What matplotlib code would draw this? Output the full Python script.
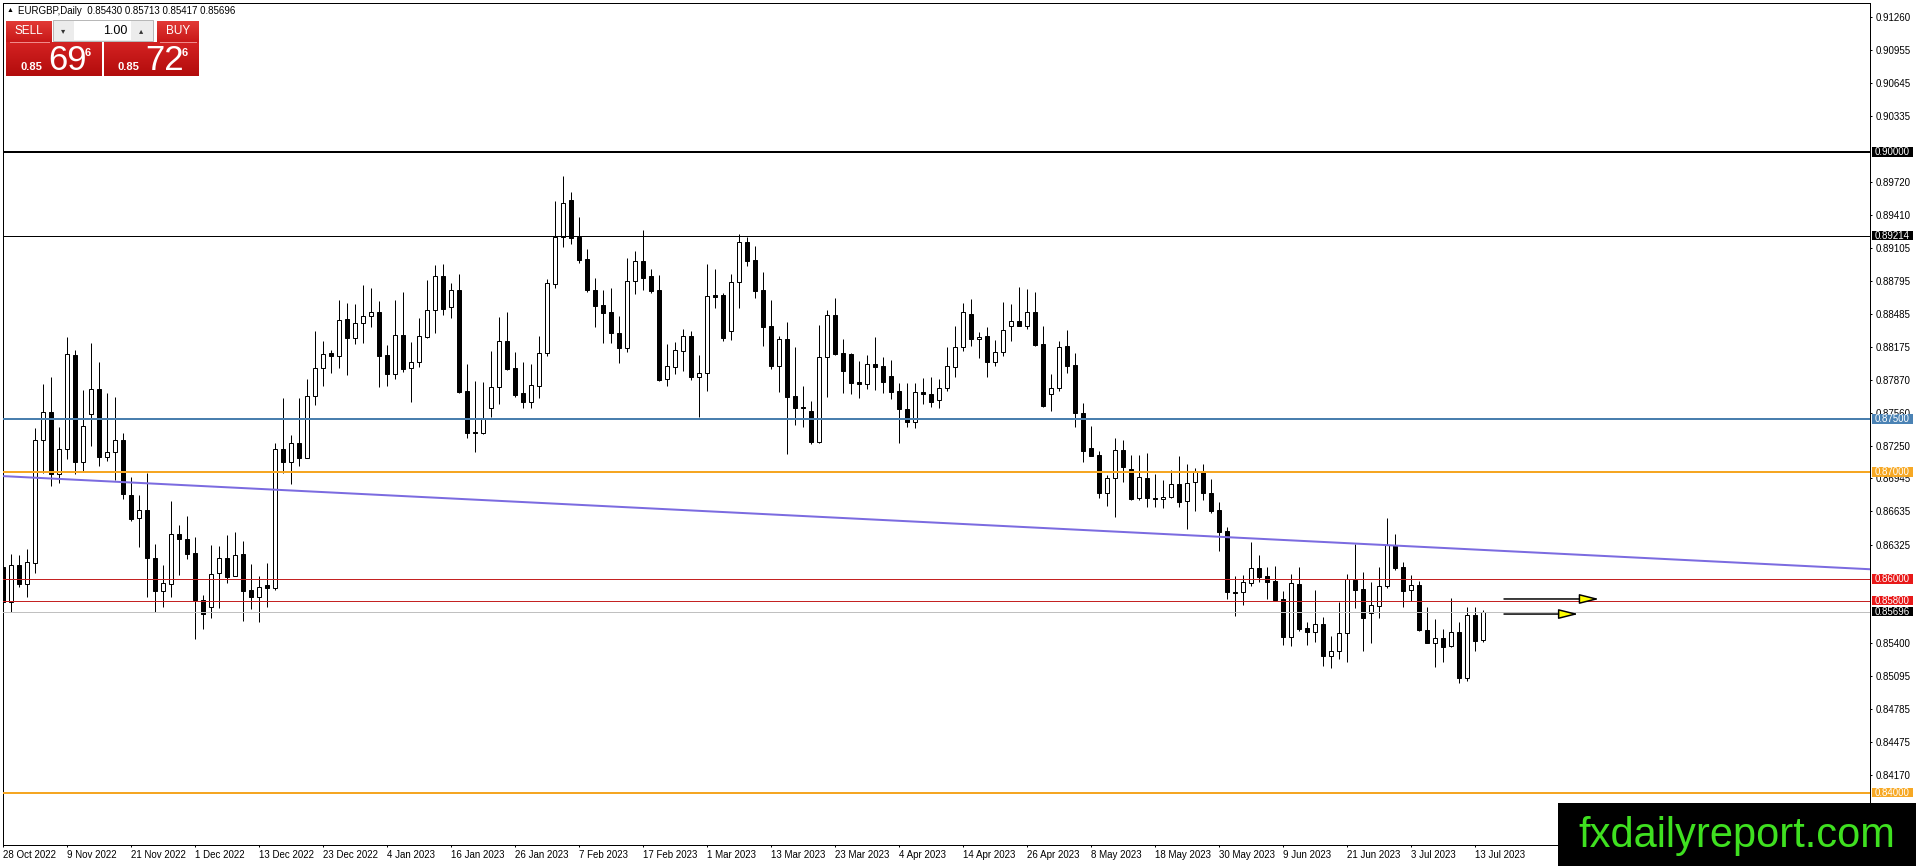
import matplotlib
matplotlib.use('Agg')
import matplotlib.pyplot as plt
import matplotlib.transforms as mtransforms
from matplotlib.colors import LinearSegmentedColormap
from matplotlib.patches import Rectangle
import numpy as np

plt.rcParams['font.family'] = ['Liberation Sans', 'DejaVu Sans']

W, H = 1916, 866

symbol = 'EURGBP,Daily'
last_ohlc = [0.85430, 0.85713, 0.85417, 0.85696]
bid_parts = ['0.85', '69', '6']
ask_parts = ['0.85', '72', '6']
lot = '1.00'

# daily candles, 28 Oct 2022 .. 14 Jul 2023
opens = [0.86119, 0.85791, 0.86134, 0.85953, 0.86150, 0.87301, 0.87563, 0.86983, 0.87217, 0.88100,
         0.87102, 0.87551, 0.87782, 0.87148, 0.87189, 0.87301, 0.86789, 0.86571, 0.86649, 0.86197,
         0.85894, 0.85953, 0.86421, 0.86374, 0.86243, 0.85807, 0.85744, 0.86056, 0.86197, 0.86034,
         0.86234, 0.85900, 0.85838, 0.85947, 0.85916, 0.87217, 0.87102, 0.87273, 0.87139, 0.87719,
         0.87975, 0.88116, 0.88094, 0.88437, 0.88262, 0.88396, 0.88468, 0.88499, 0.88100, 0.87919,
         0.88287, 0.87975, 0.88031, 0.88272, 0.88521, 0.88840, 0.88546, 0.88708, 0.87763, 0.87376,
         0.87367, 0.87601, 0.87797, 0.88231, 0.87981, 0.87747, 0.87663, 0.87813, 0.88116, 0.88765,
         0.89208, 0.89551, 0.89208, 0.88995, 0.88709, 0.88568, 0.88500, 0.88309, 0.88169, 0.88796,
         0.88980, 0.88843, 0.88709, 0.87872, 0.87991, 0.88141, 0.88278, 0.87897, 0.87929, 0.88662,
         0.88662, 0.88328, 0.88780, 0.89155, 0.88989, 0.88709, 0.88372, 0.88000, 0.88247, 0.87716,
         0.87610, 0.87576, 0.87289, 0.88085, 0.88475, 0.88122, 0.88110, 0.87844, 0.87826, 0.88013,
         0.87997, 0.87904, 0.87763, 0.87595, 0.87470, 0.87751, 0.87732, 0.87679, 0.87788, 0.87991,
         0.88172, 0.88484, 0.88247, 0.88278, 0.88032, 0.88125, 0.88372, 0.88422, 0.88375, 0.88500,
         0.88200, 0.87732, 0.87788, 0.88184, 0.88007, 0.87554, 0.87227, 0.87164, 0.86805, 0.86946,
         0.87211, 0.87030, 0.86759, 0.86946, 0.86759, 0.86749, 0.86774, 0.86890, 0.86730, 0.86908,
         0.87002, 0.86805, 0.86649, 0.86449, 0.85885, 0.85878, 0.85963, 0.86106, 0.86028, 0.85981,
         0.85816, 0.85457, 0.85956, 0.85541, 0.85504, 0.85582, 0.85286, 0.85332, 0.85495, 0.85994,
         0.85910, 0.85682, 0.85754, 0.85935, 0.86325, 0.86119, 0.85903, 0.85947, 0.85526, 0.85401,
         0.85448, 0.85373, 0.85504, 0.85077, 0.85666, 0.85430]
highs = [0.86493, 0.86237, 0.86228, 0.86284, 0.87413, 0.87828, 0.87891, 0.87429, 0.88265, 0.88147,
         0.87772, 0.88215, 0.88034, 0.87741, 0.87710, 0.87367, 0.86955, 0.86789, 0.86992, 0.86331,
         0.86134, 0.86733, 0.86509, 0.86593, 0.86399, 0.85853, 0.86321, 0.86315, 0.86415, 0.86440,
         0.86359, 0.86143, 0.86031, 0.86150, 0.87273, 0.87700, 0.87351, 0.87701, 0.87875, 0.88325,
         0.88231, 0.88147, 0.88615, 0.88590, 0.88577, 0.88755, 0.88730, 0.88605, 0.88194, 0.88615,
         0.88687, 0.88225, 0.88450, 0.88802, 0.88942, 0.88952, 0.88771, 0.88858, 0.88013, 0.87860,
         0.87844, 0.88141, 0.88453, 0.88499, 0.88125, 0.88031, 0.88013, 0.88278, 0.88808, 0.89541,
         0.89775, 0.89629, 0.89389, 0.89092, 0.88824, 0.88709, 0.88730, 0.88465, 0.89011, 0.89074,
         0.89270, 0.88905, 0.88849, 0.88203, 0.88219, 0.88344, 0.88328, 0.88100, 0.88952, 0.88905,
         0.88683, 0.88855, 0.89230, 0.89202, 0.89120, 0.88874, 0.88615, 0.88281, 0.88412, 0.88172,
         0.87810, 0.87670, 0.88381, 0.88521, 0.88631, 0.88250, 0.88116, 0.88047, 0.88100, 0.88266,
         0.88085, 0.88053, 0.87835, 0.87835, 0.87835, 0.87882, 0.87891, 0.87872, 0.88172, 0.88372,
         0.88584, 0.88624, 0.88319, 0.88359, 0.88241, 0.88593, 0.88578, 0.88734, 0.88718, 0.88693,
         0.88372, 0.87919, 0.88231, 0.88334, 0.88116, 0.87648, 0.87436, 0.87202, 0.86977, 0.87320,
         0.87305, 0.87164, 0.87164, 0.87186, 0.86986, 0.86930, 0.87024, 0.87158, 0.87080, 0.87042,
         0.87080, 0.86939, 0.86721, 0.86487, 0.86028, 0.86041, 0.86346, 0.86228, 0.86112, 0.86128,
         0.85894, 0.86050, 0.86119, 0.85598, 0.85900, 0.85644, 0.85467, 0.85791, 0.86050, 0.86331,
         0.86066, 0.85972, 0.86119, 0.86574, 0.86424, 0.86159, 0.86041, 0.85988, 0.85738, 0.85629,
         0.85535, 0.85822, 0.85598, 0.85738, 0.85738, 0.85713]
lows = [0.85697, 0.85697, 0.85931, 0.85832, 0.86056, 0.86992, 0.86877, 0.86899, 0.87123, 0.86983,
        0.87002, 0.87251, 0.87064, 0.87111, 0.86930, 0.86749, 0.86549, 0.86300, 0.85838, 0.85697,
        0.85744, 0.85838, 0.86041, 0.86187, 0.85441, 0.85532, 0.85635, 0.85735, 0.85963, 0.86034,
        0.85610, 0.85719, 0.85598, 0.85738, 0.85900, 0.86992, 0.86889, 0.87064, 0.87133, 0.87632,
        0.87813, 0.87928, 0.87981, 0.87913, 0.88200, 0.88209, 0.88365, 0.87804, 0.87813, 0.87872,
        0.87944, 0.87663, 0.87991, 0.88262, 0.88303, 0.88474, 0.88450, 0.87741, 0.87326, 0.87195,
        0.87358, 0.87523, 0.87641, 0.87960, 0.87710, 0.87601, 0.87601, 0.87701, 0.88094, 0.88724,
        0.89108, 0.89136, 0.88958, 0.88693, 0.88365, 0.88216, 0.88216, 0.88028, 0.88125, 0.88671,
        0.88709, 0.88684, 0.87857, 0.87813, 0.87919, 0.87950, 0.87866, 0.87523, 0.87766, 0.88543,
        0.88231, 0.88241, 0.88543, 0.88936, 0.88637, 0.88188, 0.87969, 0.87757, 0.87170, 0.87445,
        0.87429, 0.87264, 0.87273, 0.87704, 0.88100, 0.87748, 0.87735, 0.87694, 0.87782, 0.87773,
        0.87748, 0.87688, 0.87273, 0.87429, 0.87413, 0.87638, 0.87617, 0.87607, 0.87766, 0.87897,
        0.88141, 0.88188, 0.88075, 0.87897, 0.88000, 0.88094, 0.88234, 0.88375, 0.88344, 0.88188,
        0.87610, 0.87579, 0.87763, 0.87935, 0.87429, 0.87102, 0.87158, 0.86765, 0.86690, 0.86587,
        0.86908, 0.86743, 0.86743, 0.86681, 0.86681, 0.86665, 0.86759, 0.86674, 0.86471, 0.86643,
        0.86743, 0.86621, 0.86268, 0.85816, 0.85660, 0.85763, 0.85941, 0.85978, 0.85816, 0.85800,
        0.85389, 0.85373, 0.85513, 0.85389, 0.85417, 0.85192, 0.85167, 0.85254, 0.85230, 0.85729,
        0.85332, 0.85404, 0.85638, 0.85916, 0.86091, 0.85744, 0.85794, 0.85520, 0.85401, 0.85183,
        0.85230, 0.85370, 0.85027, 0.85046, 0.85332, 0.85417]
closes = [0.85791, 0.86134, 0.85953, 0.86159, 0.87301, 0.87563, 0.86983, 0.87217, 0.88106, 0.87102,
          0.87435, 0.87778, 0.87148, 0.87189, 0.87301, 0.86796, 0.86562, 0.86649, 0.86197, 0.85894,
          0.85969, 0.86421, 0.86374, 0.86237, 0.85807, 0.85672, 0.86050, 0.86197, 0.86025, 0.86228,
          0.85894, 0.85838, 0.85931, 0.85916, 0.87217, 0.87102, 0.87273, 0.87139, 0.87716, 0.87975,
          0.88106, 0.88094, 0.88428, 0.88262, 0.88396, 0.88465, 0.88499, 0.88094, 0.87919, 0.88287,
          0.87969, 0.88031, 0.88278, 0.88521, 0.88840, 0.88531, 0.88708, 0.87757, 0.87373, 0.87367,
          0.87507, 0.87797, 0.88231, 0.87966, 0.87726, 0.87663, 0.87819, 0.88116, 0.88771, 0.89208,
          0.89520, 0.89192, 0.88989, 0.88709, 0.88562, 0.88490, 0.88303, 0.88169, 0.88793, 0.88980,
          0.88824, 0.88699, 0.87866, 0.87997, 0.88147, 0.88278, 0.87897, 0.87929, 0.88653, 0.88646,
          0.88262, 0.88780, 0.89155, 0.88983, 0.88702, 0.88365, 0.88000, 0.88247, 0.87710, 0.87601,
          0.87601, 0.87289, 0.88085, 0.88475, 0.88110, 0.87954, 0.87841, 0.87826, 0.88013, 0.87991,
          0.87850, 0.87757, 0.87592, 0.87470, 0.87751, 0.87732, 0.87663, 0.87788, 0.87997, 0.88172,
          0.88500, 0.88247, 0.88272, 0.88032, 0.88125, 0.88334, 0.88422, 0.88375, 0.88500, 0.88194,
          0.87626, 0.87788, 0.88178, 0.88000, 0.87554, 0.87205, 0.87158, 0.86805, 0.86946, 0.87211,
          0.87055, 0.86752, 0.86955, 0.86759, 0.86749, 0.86774, 0.86890, 0.86721, 0.86902, 0.87002,
          0.86805, 0.86643, 0.86446, 0.85878, 0.85872, 0.85972, 0.86106, 0.86025, 0.85978, 0.85807,
          0.85457, 0.85966, 0.85535, 0.85504, 0.85582, 0.85286, 0.85332, 0.85495, 0.86003, 0.85903,
          0.85635, 0.85760, 0.85935, 0.86325, 0.86103, 0.85894, 0.85947, 0.85526, 0.85401, 0.85448,
          0.85370, 0.85504, 0.85077, 0.85666, 0.85426, 0.85696]

date_labels = ['28 Oct 2022', '9 Nov 2022', '21 Nov 2022', '1 Dec 2022', '13 Dec 2022',
               '23 Dec 2022', '4 Jan 2023', '16 Jan 2023', '26 Jan 2023', '7 Feb 2023',
               '17 Feb 2023', '1 Mar 2023', '13 Mar 2023', '23 Mar 2023', '4 Apr 2023',
               '14 Apr 2023', '26 Apr 2023', '8 May 2023', '18 May 2023', '30 May 2023',
               '9 Jun 2023', '21 Jun 2023', '3 Jul 2023', '13 Jul 2023']
bars_per_label = 8

price_ticks = [0.91260, 0.90955, 0.90645, 0.90335, 0.89720, 0.89410, 0.89105, 0.88795,
               0.88485, 0.88175, 0.87870, 0.87560, 0.87250, 0.86945, 0.86635, 0.86325,
               0.85400, 0.85095, 0.84785, 0.84475, 0.84170]

levels = [0.90000, 0.89214, 0.87500, 0.87000, 0.86000, 0.85800, 0.85696, 0.84000]
level_colors = ['black', 'black', '#4a7fae', '#f5a623', '#c42222', '#c42222', '#c0c0c0', '#f5a623']
level_label_bg = ['black', 'black', '#4a82b4', '#f7a823', '#e81818', '#e81818', 'black', '#f7a823']
level_widths = [2, 1, 2, 2, 1, 1, 1, 2]

trend_bars = [0, 185]
trend_prices = [0.86966, 0.86275]

arrow_start = [187.6, 187.6]
arrow_end = [199.5, 196.9]
arrow_price = [0.85816, 0.85675]

px = 0.72  # one pixel in points

fig = plt.figure(figsize=(W / 100, H / 100), dpi=100)
fig.patch.set_facecolor('white')
ax = fig.add_axes([3 / W, (H - 845) / H, (1870 - 3) / W, (845 - 3) / H])
ax.set_facecolor('white')

n = len(opens)
xs = np.arange(n)
o = np.array(opens); h = np.array(highs); l = np.array(lows); c = np.array(closes)
up = c >= o

ax.vlines(xs, l, h, color='black', lw=px, zorder=2)
body_lo = np.minimum(o, c)
body_h = np.maximum(np.abs(c - o), 0.00003)
ax.bar(xs[up], body_h[up], bottom=body_lo[up], width=0.55, color='white',
       edgecolor='black', linewidth=px, zorder=3)
ax.bar(xs[~up], body_h[~up], bottom=body_lo[~up], width=0.55, color='black',
       edgecolor='black', linewidth=px, zorder=3)

x0, x1 = -0.025, (1870 - 3.2) / 8
y0, y1 = 0.835131, 0.913948

for lev, col, lw in zip(levels, level_colors, level_widths):
    ax.axhline(lev, color=col, lw=lw * px, zorder=4)

# trend line drawn as a ray to the right edge
slope = (trend_prices[1] - trend_prices[0]) / (trend_bars[1] - trend_bars[0])
tx = np.array([x0, x1])
ax.plot(tx, trend_prices[0] + slope * (tx - trend_bars[0]), color='#7b6be0', lw=2 * px, zorder=4)

for xa, xb, pa in zip(arrow_start, arrow_end, arrow_price):
    ax.annotate('', xy=(xb, pa), xytext=(xa, pa),
                arrowprops=dict(arrowstyle='-|>,head_length=1.2,head_width=0.3',
                                fc='#ffff00', ec='black', lw=1.5 * px,
                                shrinkA=0, shrinkB=0, mutation_scale=10), zorder=5)

ax.set_xlim(x0, x1)
ax.set_ylim(y0, y1)

for sp in ax.spines.values():
    sp.set_linewidth(px)
    sp.set_color('black')

ax.set_xticks(np.arange(len(date_labels)) * bars_per_label)
ax.set_xticklabels(date_labels, ha='left')
ax.tick_params(axis='x', direction='out', length=2.5 * px, width=px, pad=2, labelsize=7)

ax.yaxis.tick_right()
ax.set_yticks(price_ticks)
ax.set_yticklabels(['%.5f' % v for v in price_ticks])
ax.tick_params(axis='y', direction='out', length=2.5 * px, width=px, pad=2.5, labelsize=7)

# price labels on the right scale
bt = mtransforms.blended_transform_factory(ax.transAxes, ax.transData)
ppx = (y1 - y0) / (845 - 3)
bw = 41 / (1870 - 3)
for lev, bg in zip(levels, level_label_bg):
    ax.add_patch(Rectangle((1 + 2 / 1867, lev - 4.5 * ppx), bw, 9.5 * ppx, transform=bt,
                           fc=bg, ec='none', clip_on=False, zorder=10))
    ax.text(1 + 2 / 1867 + bw / 2, lev, '%.5f' % lev, transform=bt, ha='center', va='center',
            fontsize=7, color='white', zorder=11, clip_on=False)

# overlay in pixel coordinates for the trading panel and the watermark
ov = fig.add_axes([0, 0, 1, 1])
ov.set_facecolor('none')
ov.axis('off')


def grad_rect(xa, ya, xb, yb, top, bottom):
    cm = LinearSegmentedColormap.from_list('g', [top, bottom])
    ov.imshow(np.linspace(0, 1, 50).reshape(-1, 1), cmap=cm, aspect='auto',
              extent=(xa, xb, yb, ya), zorder=2, interpolation='bilinear')


ov.text(7, 11, '\u25b2', fontsize=5, va='center', ha='left', color='black')
ov.text(18, 11, symbol + '  ' + ' '.join('%.5f' % v for v in last_ohlc),
        fontsize=7, va='center', ha='left', color='black')

grad_rect(6, 21, 52, 42, '#e23a36', '#c81818')
grad_rect(157, 21, 199, 42, '#e23a36', '#c81818')
grad_rect(6, 42, 102, 76, '#d42222', '#b20c0c')
grad_rect(104, 42, 199, 76, '#d42222', '#b20c0c')
ov.plot([10, 49], [41.5, 41.5], color='#f08a8a', lw=px, zorder=3)
ov.plot([160, 196], [41.5, 41.5], color='#f08a8a', lw=px, zorder=3)
ov.text(29, 31, 'SELL', fontsize=8.5, color='white', ha='center', va='center', zorder=4)
ov.text(178, 31, 'BUY', fontsize=8.5, color='white', ha='center', va='center', zorder=4)

ov.add_patch(Rectangle((53, 20), 100, 21, fc='#ececec', ec='#b8b8b8', lw=px, zorder=2))
ov.add_patch(Rectangle((74, 21), 57, 19, fc='white', ec='none', zorder=3))
ov.text(63.5, 30.5, '\u25be', fontsize=6, color='#333333', ha='center', va='center', zorder=4,
        family=['DejaVu Sans'])
ov.text(141.5, 30.5, '\u25b4', fontsize=6, color='#333333', ha='center', va='center', zorder=4,
        family=['DejaVu Sans'])
ov.text(127, 30.5, lot, fontsize=9, color='black', ha='right', va='center', zorder=4)

for parts, xl in [(bid_parts, 21), (ask_parts, 118)]:
    ov.text(xl, 70, parts[0], fontsize=8, fontweight='bold', color='white', ha='left',
            va='baseline', zorder=4)
    ov.text(xl + 27, 70, parts[1], fontsize=25, color='white', ha='left', va='baseline', zorder=4)
    ov.text(xl + 64, 56, parts[2], fontsize=8, fontweight='bold', color='white', ha='left',
            va='baseline', zorder=4)

ov.add_patch(Rectangle((1558, 803), W - 1558, H - 803, fc='black', ec='none', zorder=5))
ov.text(1737, 836, 'fxdailyreport.com', fontsize=30, color='#3fe020', ha='center',
        va='center', zorder=6)

ov.set_xlim(0, W)
ov.set_ylim(H, 0)

fig.savefig('out.png', dpi=100, facecolor='white')
